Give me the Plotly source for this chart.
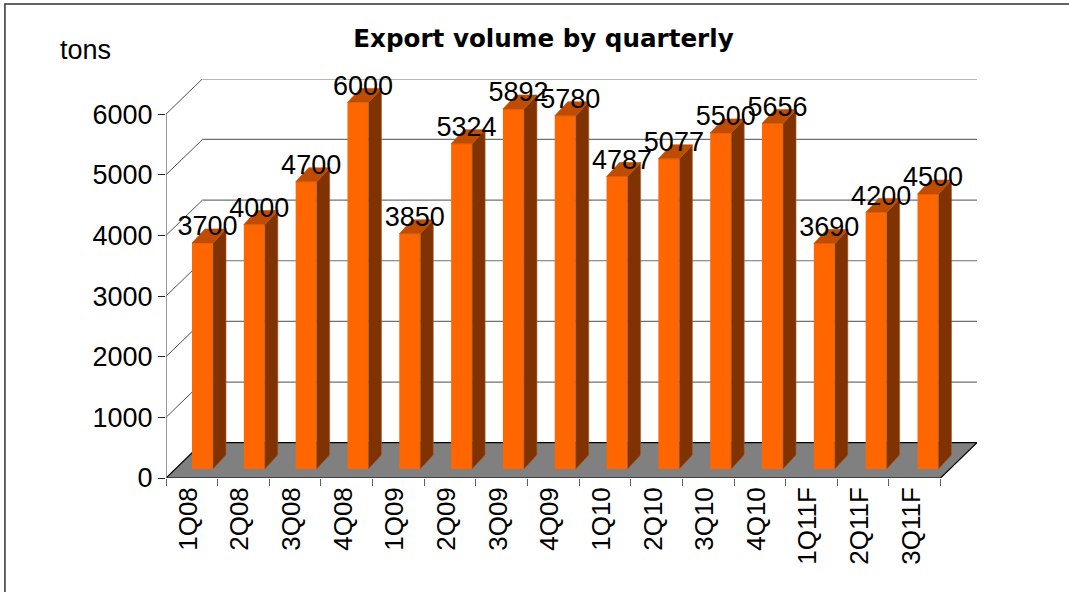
import plotly.graph_objects as go

categories = ["1Q08", "2Q08", "3Q08", "4Q08", "1Q09", "2Q09", "3Q09", "4Q09",
              "1Q10", "2Q10", "3Q10", "4Q10", "1Q11F", "2Q11F", "3Q11F"]
export_tons = [3700, 4000, 4700, 6000, 3850, 5324, 5892, 5780,
               4787, 5077, 5500, 5656, 3690, 4200, 4500]
y_ticks = [0, 1000, 2000, 3000, 4000, 5000, 6000]

W, H = 1069, 592
# plot rectangle, in pixels
L, R, T, B = 166.0, 976.7, 79.0, 478.0
# wall / floor axes
CAT_PX = 51.62
VAL_PX = 60.65 / 1000
DEPTH_X = 36.5 / CAT_PX
DEPTH_Y = 35.3 / VAL_PX
# bar axes (bars sit inside the depth of the floor)
BAR_CAT_PX = 51.8
BAR_VAL_PX = 61.1 / 1000
BAR_X0, BAR_Y0 = 202.5, 469.0
BW = 21 / BAR_CAT_PX
SX = 13 / BAR_CAT_PX
SY = 14 / BAR_VAL_PX

n = len(categories)
xmax = (R - L) / CAT_PX
ymax = (B - T) / VAL_PX

fig = go.Figure()

# back-wall grid
gx, gy, dx_, dy_ = [], [], [], []
for t in y_ticks[1:]:
    gx += [DEPTH_X, xmax, None]
    gy += [t + DEPTH_Y, t + DEPTH_Y, None]
    dx_ += [0, DEPTH_X, None]
    dy_ += [t, t + DEPTH_Y, None]
fig.add_trace(go.Scatter(x=gx, y=gy, mode="lines", line=dict(color="#707070", width=1.2), hoverinfo="skip"))
fig.add_trace(go.Scatter(x=dx_, y=dy_, mode="lines", line=dict(color="#222222", width=0.8), hoverinfo="skip"))

# floor
fig.add_trace(go.Scatter(x=[0, n, xmax, DEPTH_X, 0], y=[0, 0, DEPTH_Y, DEPTH_Y, 0], mode="lines",
                         fill="toself", fillcolor="#808080", line=dict(color="#000000", width=1.2), hoverinfo="skip"))
# value-axis line
fig.add_trace(go.Scatter(x=[0, 0], y=[0, y_ticks[-1]], mode="lines", line=dict(color="#808080", width=1.6), hoverinfo="skip"))

# bars
positions = list(range(n))
fig.add_trace(go.Bar(x=positions, y=export_tons, width=BW, marker=dict(color="#FF6600", line=dict(width=0)),
                     xaxis="x2", yaxis="y2", hoverinfo="skip"))
sx, sy, tx, ty = [], [], [], []
for i, v in zip(positions, export_tons):
    xl, xr = i - BW / 2, i + BW / 2
    sx += [xr, xr, xr + SX, xr + SX, xr, None]
    sy += [0, v, v + SY, SY, 0, None]
    tx += [xl, xr, xr + SX, xl + SX, xl, None]
    ty += [v, v, v + SY, v + SY, v, None]
fig.add_trace(go.Scatter(x=sx, y=sy, mode="lines", fill="toself", fillcolor="#803300",
                         line=dict(color="#A0623A", width=0.6), xaxis="x2", yaxis="y2", hoverinfo="skip"))
fig.add_trace(go.Scatter(x=tx, y=ty, mode="lines", fill="toself", fillcolor="#BF4C00",
                         line=dict(color="#BF4C00", width=0.6), xaxis="x2", yaxis="y2", hoverinfo="skip"))
# value labels
fig.add_trace(go.Scatter(x=[i + 5 / BAR_CAT_PX for i in positions], y=[v + 14.5 / BAR_VAL_PX for v in export_tons],
                         mode="text", text=[str(v) for v in export_tons], textposition="middle center",
                         textfont=dict(family="Liberation Sans", size=27, color="#000000"),
                         cliponaxis=False, xaxis="x2", yaxis="y2", hoverinfo="skip"))

font = dict(family="Liberation Sans", size=27, color="#000000")
fig.update_layout(
    width=W, height=H, autosize=False, showlegend=False,
    margin=dict(l=L, r=W - R, t=T, b=H - B, pad=0),
    paper_bgcolor="#FFFFFF", plot_bgcolor="rgba(0,0,0,0)",
    barmode="overlay",
    title=dict(text="<b>Export volume by quarterly</b>", x=543.5 / W, xanchor="center", y=1 - 38 / H, yanchor="middle",
               font=dict(family="DejaVu Sans", size=24.6, color="#000000")),
    xaxis=dict(range=[0, xmax], tickmode="array", tickvals=[i + 0.5 - 3.5 / CAT_PX for i in positions], ticktext=categories,
               tickangle=-90, ticks="", tickfont=dict(family="Liberation Sans", size=26, color="#000000"),
               ticklabelstandoff=3, showgrid=False, zeroline=False, showline=False, automargin=False,
               minor=dict(tickmode="array", tickvals=list(range(n + 1)), ticks="outside", ticklen=7, tickwidth=1.2,
                          tickcolor="#606060", showgrid=False)),
    yaxis=dict(range=[0, ymax], tickmode="array", tickvals=y_ticks, ticks="outside", ticklen=7, tickwidth=1,
               tickcolor="#222222", tickfont=font, showgrid=False, zeroline=False, showline=False, automargin=False),
    xaxis2=dict(overlaying="x", visible=False, range=[(L - BAR_X0) / BAR_CAT_PX, (R - BAR_X0) / BAR_CAT_PX], fixedrange=True),
    yaxis2=dict(overlaying="y", visible=False, range=[(BAR_Y0 - B) / BAR_VAL_PX, (BAR_Y0 - T) / BAR_VAL_PX], fixedrange=True),
    annotations=[dict(text="tons", xref="paper", yref="paper", x=(86 - L) / (R - L), y=(B - 50) / (B - T),
                      xanchor="center", yanchor="middle", showarrow=False, font=font)],
    shapes=[dict(type="rect", xref="paper", yref="paper", x0=(5 - L) / (R - L), x1=(W + 20 - L) / (R - L),
                 y0=(B - H - 20) / (B - T), y1=(B - 4) / (B - T), line=dict(color="#333333", width=1.5))],
)

fig.write_html("out.html", config={"displayModeBar": False}, post_script="document.body.style.margin='0';")
